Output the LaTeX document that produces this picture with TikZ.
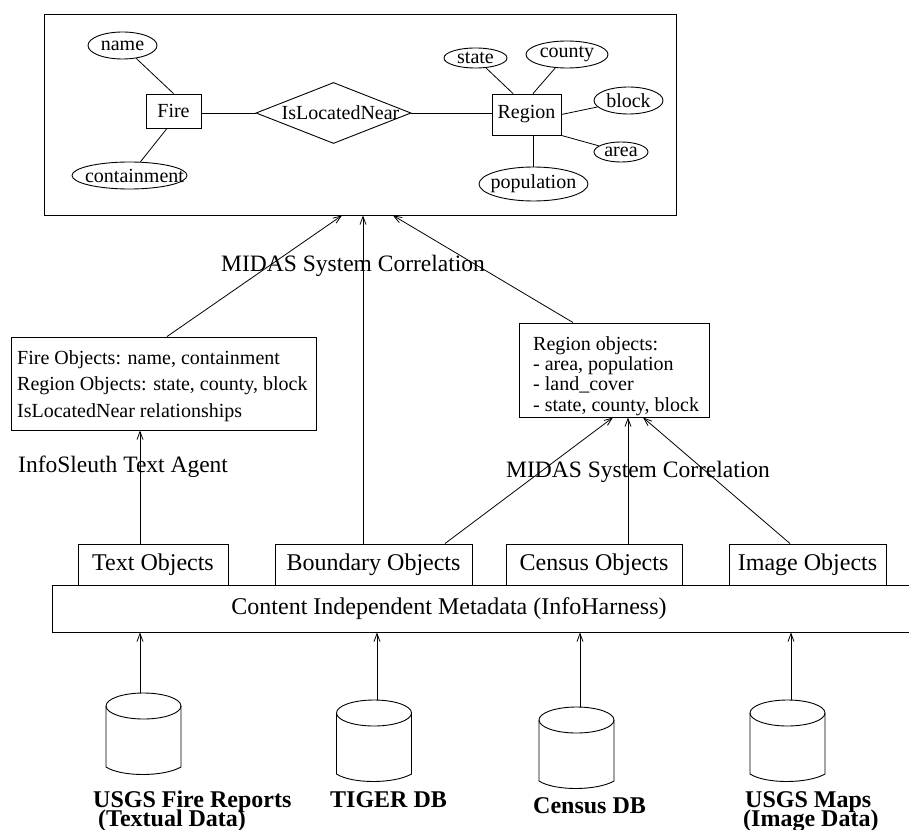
\documentclass[tikz,border=0pt]{standalone}
\usepackage{fontspec}
\setmainfont{Liberation Serif}
\usetikzlibrary{shapes.geometric,arrows.meta}
\begin{document}
\begin{tikzpicture}[x=1pt,y=-1pt,
  every node/.style={inner sep=0pt},
  box/.style={draw, rectangle, line width=0.9pt},
  ertext/.style={font=\fontsize{20}{24}\selectfont},
  entity/.style={box, ertext},
  attr/.style={draw, ellipse, line width=0.9pt},
  relship/.style={draw, diamond, line width=0.9pt},
  conn/.style={line width=0.8pt},
  arr/.style={line width=0.8pt, -{Straight Barb[length=8pt,width=6pt]}},
  objtext/.style={font=\fontsize{24}{28}\selectfont},
  flowlabel/.style={anchor=base west, font=\fontsize{23.5}{28}\selectfont},
  dblabel/.style={anchor=base west, font=\fontsize{24}{24}\selectfont\bfseries},
  dbcyl/.pic={
    \draw[line width=0.9pt] (0,0) ellipse [x radius=37.5pt, y radius=13pt];
    \draw[line width=0.9pt] (-37.5,0) -- (-37.5,61)
      .. controls (-22,71) and (20,71) .. (37.5,61) -- (37.5,0);
    \coordinate (-top) at (0,-13);
  }]
\useasboundingbox (0,0) rectangle (909,829);

% ---------- integrated ER schema ----------
\node[box, minimum width=632pt, minimum height=201pt] (schema) at (360,114.5) {};
\node[entity, minimum width=55pt, minimum height=34pt] (fire) at (173.5,111) {Fire};
\node[relship, minimum width=155pt, minimum height=61pt,
      label={[ertext,xshift=7pt]center:IsLocatedNear}] (near) at (333.5,113) {};
\node[entity, minimum width=69pt, minimum height=41pt] (region) at (526.5,114.5) {Region};

\node[attr, minimum width=69pt, minimum height=27pt, label={[ertext]center:name}] (name) at (122.5,45.5) {};
\node[attr, minimum width=115pt, minimum height=27pt, label={[ertext,xshift=5pt]center:containment}] (containment) at (129.5,175.5) {};
\node[attr, minimum width=63pt, minimum height=20pt, label={[ertext]center:state}] (state) at (475.5,58) {};
\node[attr, minimum width=82pt, minimum height=27pt, label={[ertext]center:county}] (county) at (567,54.5) {};
\node[attr, minimum width=69pt, minimum height=27pt, label={[ertext]center:block}] (block) at (628.5,100.5) {};
\node[attr, minimum width=54pt, minimum height=20pt, label={[ertext]center:area}] (area) at (621,152) {};
\node[attr, minimum width=109pt, minimum height=34pt, label={[ertext]center:population}] (population) at (533.5,184) {};

\draw[conn] (near.west) -- (near.west -| fire.east);
\draw[conn] (near.east) -- (near.east -| region.west);
\draw[conn] (name) -- (fire.north);
\draw[conn] (containment) -- ([xshift=-6.5pt]fire.south);
\draw[conn] (state) -- ([xshift=-13.5pt]region.north);
\draw[conn] (county) -- ([xshift=6.5pt]region.north);
\draw[conn] (block) -- (region.east);
\draw[conn] (area) -- (region.south east);
\draw[conn] (population.north) -- (population.north |- region.south);

% ---------- extracted objects ----------
\node[box, minimum width=305pt, minimum height=93pt] (fireobj) at (163.5,383.5) {};
\node[anchor=north west, align=left, font=\fontsize{20}{26.5}\selectfont] (fireobjtext) at (17,350.3)
  {Fire Objects: name, containment\\Region Objects: state, county, block\\IsLocatedNear relationships};

\node[box, minimum width=190pt, minimum height=94pt] (regobj) at (614,370) {};
\node[anchor=north west, align=left, font=\fontsize{20}{20.3}\selectfont] (regobjtext) at (533,336.3)
  {Region objects:\\- area, population\\- land\_cover\\- state, county, block};

\node[flowlabel] (midastop) at (221,271) {MIDAS System Correlation};
\node[flowlabel] (midaslow) at (506,477) {MIDAS System Correlation};
\node[flowlabel] (agent) at (18,472) {InfoSleuth Text Agent};

% ---------- metadata layer ----------
\node[box, objtext, minimum width=150pt, minimum height=41pt] (textobj) at (153,564.5) {Text Objects};
\node[box, objtext, minimum width=197pt, minimum height=41pt] (boundobj) at (373.5,564.5) {Boundary Objects};
\node[box, objtext, minimum width=176pt, minimum height=41pt] (censusobj) at (594,564.5) {Census Objects};
\node[box, objtext, minimum width=157pt, minimum height=41pt] (imageobj) at (807.5,564.5) {Image Objects};
\node[box, minimum width=864pt, minimum height=47pt,
      label={[objtext,xshift=-35pt]center:Content Independent Metadata (InfoHarness)}] (cim) at (484,608.5) {};

% ---------- arrows between layers ----------
\coordinate (tA) at ([xshift=-13pt]textobj.north);
\draw[arr] (tA) -- (tA |- fireobj.south);
\draw[arr] ([xshift=3.5pt]fireobj.north) -- ([xshift=-18pt]schema.south);
\coordinate (bA) at ([xshift=-10.5pt]boundobj.north);
\draw[arr] (bA) -- (bA |- schema.south);
\draw[arr] ([xshift=-41pt]regobj.north) -- ([xshift=33pt]schema.south);

\draw[arr] ([xshift=71.5pt]boundobj.north) -- ([xshift=-1pt]regobj.south);
\coordinate (cA) at ([xshift=34pt]censusobj.north);
\draw[arr] (cA) -- (cA |- regobj.south);
\draw[arr] ([xshift=-17.5pt]imageobj.north) -- ([xshift=29pt]regobj.south);

% ---------- data sources ----------
\pic (db1) at (143.5,706) {dbcyl};
\pic (db2) at (374,713) {dbcyl};
\pic (db3) at (576.5,720) {dbcyl};
\pic (db4) at (787.5,713) {dbcyl};

\coordinate (d1) at ([xshift=-3.5pt]db1-top);
\coordinate (d2) at ([xshift=3pt]db2-top);
\coordinate (d3) at ([xshift=3.5pt]db3-top);
\coordinate (d4) at ([xshift=3.5pt]db4-top);
\draw[arr] (d1) -- (d1 |- cim.south);
\draw[arr] (d2) -- (d2 |- cim.south);
\draw[arr] (d3) -- (d3 |- cim.south);
\draw[arr] (d4) -- (d4 |- cim.south);

\node[dblabel] (usgsfire) at (93,807) {USGS Fire Reports};
\node[dblabel] (usgsfire2) at (98,826) {(Textual Data)};
\node[dblabel] (tiger) at (330,807) {TIGER DB};
\node[dblabel] (census) at (533,813) {Census DB};
\node[dblabel] (usgsmaps) at (745,807) {USGS Maps};
\node[dblabel] (usgsmaps2) at (743,826) {(Image Data)};
\end{tikzpicture}
\end{document}
